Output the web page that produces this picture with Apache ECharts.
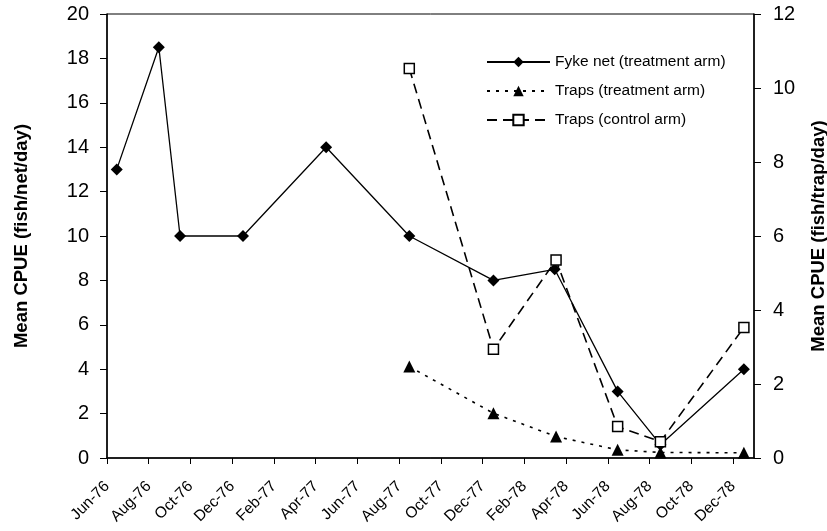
<!DOCTYPE html>
<html><head><meta charset="utf-8">
<script src="https://cdn.jsdelivr.net/npm/echarts@6/dist/echarts.min.js"></script>
<style>html,body{margin:0;padding:0;background:#fff}#c{width:827px;height:531px}</style>
</head><body><div id="c"></div>
<script>
// Tick labels on the x axis (every 2 months starting Jun-76)
const tickLabels = ["Jun-76","Aug-76","Oct-76","Dec-76","Feb-77","Apr-77","Jun-77","Aug-77","Oct-77","Dec-77","Feb-78","Apr-78","Jun-78","Aug-78","Oct-78","Dec-78"];
// Sampling dates
const fykeDates = ["1976-06-15","1976-08-16","1976-09-16","1976-12-17","1977-04-16","1977-08-16","1977-12-17","1978-03-15","1978-06-15","1978-08-17","1978-12-17"];
const fykeValues = [13, 18.5, 10, 10, 14, 10, 8, 8.5, 3, 0.6, 4];
const trapDates = ["1977-08-16","1977-12-17","1978-03-17","1978-06-15","1978-08-17","1978-12-17"];
const trapTreatValues = [2.47, 1.21, 0.58, 0.22, 0.15, 0.14];
const trapControlValues = [10.53, 2.94, 5.35, 0.85, 0.44, 3.53];

const daysIn = (y, m) => new Date(y, m, 0).getDate();
function monthIndex(s) {
  const [y, m, d] = s.split('-').map(Number);
  return (y - 1976) * 12 + (m - 6) + (d - 1) / daysIn(y, m);
}
const pairs = (dates, vals) => dates.map((d, i) => [monthIndex(d), vals[i]]);

const font = 'Liberation Sans, Arial, sans-serif';
const chart = echarts.init(document.getElementById('c'), null, {renderer: 'canvas'});
chart.setOption({
  animation: false,
  backgroundColor: '#fff',
  textStyle: {fontFamily: font, color: '#000'},
  grid: {left: 107, right: 73, top: 14, bottom: 73, containLabel: false, outerBoundsMode: 'none',
    show: true, borderColor: '#000', borderWidth: 1},
  legend: {
    orient: 'vertical', left: 481, top: 49, itemWidth: 63, itemHeight: 13, itemGap: 13,
    textStyle: {fontFamily: font, fontSize: 15.5, color: '#000'},
    data: ['Fyke net (treatment arm)', 'Traps (treatment arm)', 'Traps (control arm)']
  },
  xAxis: {
    type: 'value', min: 0, max: 31,
    axisLine: {lineStyle: {color: '#000', width: 1.5}},
    axisTick: {show: true, length: 6, lineStyle: {color: '#000'}, customValues: tickLabels.map((_, i) => i * 2)},
    axisLabel: {rotate: 45, fontSize: 15.5, color: '#000', fontFamily: font, margin: 26,
      customValues: tickLabels.map((_, i) => i * 2),
      formatter: v => tickLabels[Math.round(v / 2)] || ''},
    splitLine: {show: false}
  },
  yAxis: [{
    type: 'value', min: 0, max: 20, interval: 2, position: 'left',
    name: 'Mean CPUE (fish/net/day)', nameLocation: 'middle', nameGap: 76, nameRotate: 90,
    nameTextStyle: {fontFamily: font, fontSize: 18.5, fontWeight: 'bold', color: '#000'},
    axisLine: {show: true, lineStyle: {color: '#000', width: 1.5}},
    axisTick: {show: true, length: 7, lineStyle: {color: '#000'}},
    axisLabel: {fontSize: 20, color: '#000', fontFamily: font, margin: 18},
    splitLine: {show: false}
  }, {
    type: 'value', min: 0, max: 12, interval: 2, position: 'right',
    name: 'Mean CPUE (fish/trap/day)', nameLocation: 'middle', nameGap: 55, nameRotate: 90,
    nameTextStyle: {fontFamily: font, fontSize: 18.5, fontWeight: 'bold', color: '#000'},
    axisLine: {show: true, lineStyle: {color: '#000', width: 1.5}},
    axisTick: {show: true, length: 7, lineStyle: {color: '#000'}},
    axisLabel: {fontSize: 20, color: '#000', fontFamily: font, margin: 19},
    splitLine: {show: false}
  }],
  series: [{
    name: 'Fyke net (treatment arm)', type: 'line', yAxisIndex: 0,
    data: pairs(fykeDates, fykeValues),
    symbol: 'diamond', symbolSize: 12,
    lineStyle: {color: '#000', width: 1.3, type: 'solid'},
    itemStyle: {color: '#000'}
  }, {
    name: 'Traps (treatment arm)', type: 'line', yAxisIndex: 1,
    data: pairs(trapDates, trapTreatValues),
    symbol: 'triangle', symbolSize: 12,
    lineStyle: {color: '#000', width: 1.6, type: [3, 6]},
    itemStyle: {color: '#000'}
  }, {
    name: 'Traps (control arm)', type: 'line', yAxisIndex: 1,
    data: pairs(trapDates, trapControlValues),
    symbol: 'rect', symbolSize: 10,
    lineStyle: {color: '#000', width: 1.6, type: [10, 6]},
    itemStyle: {color: '#fff', borderColor: '#000', borderWidth: 1.5}
  }]
});
</script></body></html>
